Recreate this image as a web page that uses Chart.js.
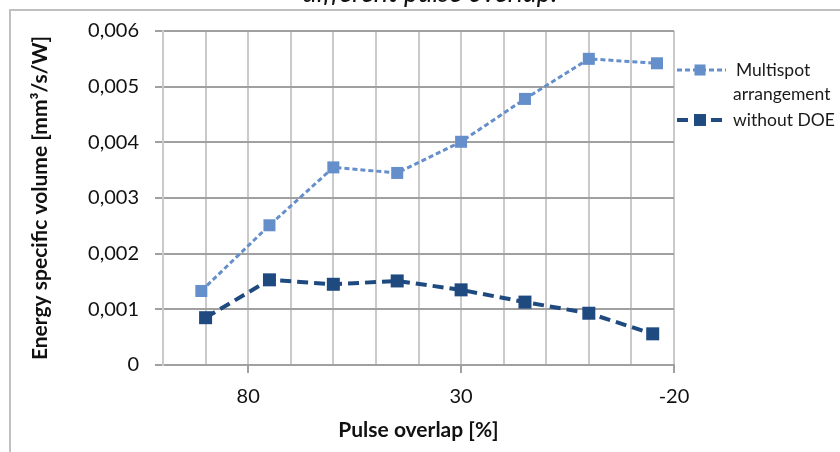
<!DOCTYPE html>
<html>
<head>
<meta charset="utf-8">
<script src="https://cdn.jsdelivr.net/npm/chart.js@4.4.1/dist/chart.umd.min.js"></script>
<style>
  html, body { margin: 0; padding: 0; background: #fff; }
  #chart { display: block; }
</style>
</head>
<body>
<canvas id="chart" width="840" height="452"></canvas>
<script>
// data
const overlapMultispot = [91, 75, 60, 45, 30, 15, 0, -16];
const overlapDoe = [90, 75, 60, 45, 30, 15, 0, -15];
const multispot = [0.00133, 0.00251, 0.00355, 0.00345, 0.00401, 0.00478, 0.0055, 0.00542];
const withoutDoe = [0.00085, 0.00153, 0.00145, 0.00151, 0.00135, 0.00113, 0.00093, 0.00056];
const xTickLabels = [80, 30, -20];
const seriesNames = [['Multispot', 'arrangement'], ['without DOE']];

const lightBlue = '#658fca';
const darkBlue = '#1f4a80';
const FONT = 'Lato, "Open Sans", sans-serif';

const chart1 = document.getElementById('chart');

// frame, cut-off title and legend
const decor = {
  id: 'decor',
  afterDraw(chart) {
    const ctx = chart.ctx;
    ctx.save();
    ctx.strokeStyle = '#c0c0c0';
    ctx.lineWidth = 2;
    ctx.beginPath();
    ctx.moveTo(10, 452);
    ctx.lineTo(10, 10);
    ctx.lineTo(840, 10);
    ctx.stroke();

    ctx.fillStyle = '#111';
    ctx.font = 'italic 27px ' + FONT;
    ctx.textAlign = 'center';
    ctx.textBaseline = 'alphabetic';
    ctx.fillText('different pulse overlap.', 430, 2);

    // legend
    const rows = [70, 120];
    chart.data.datasets.forEach((ds, i) => {
      const y = rows[i];
      ctx.strokeStyle = ds.borderColor;
      ctx.lineWidth = ds.borderWidth;
      ctx.setLineDash(ds.borderDash);
      ctx.beginPath();
      ctx.moveTo(677, y);
      ctx.lineTo(726, y);
      ctx.stroke();
      ctx.setLineDash([]);
      ctx.fillStyle = ds.backgroundColor;
      const s = ds.pointRadius * 1.3;
      ctx.fillRect(700 - s / 2, y - s / 2, s, s);
      ctx.fillStyle = '#1a1a1a';
      ctx.font = '17.5px ' + FONT;
      ctx.textAlign = 'left';
      ctx.textBaseline = 'middle';
      seriesNames[i].forEach((t, k) => {
        ctx.fillText(t, i === 0 && k === 0 ? 736 : 733, y + k * 24);
      });
    });
    ctx.restore();
  }
};

new Chart(chart1, {
  type: 'line',
  data: {
    datasets: [{
      label: seriesNames[0].join(' '),
      data: overlapMultispot.map((x, i) => ({x: x, y: multispot[i]})),
      borderColor: lightBlue,
      backgroundColor: lightBlue,
      borderWidth: 3,
      borderDash: [5, 3],
      pointStyle: 'rect',
      pointRadius: 8.5,
      pointBorderWidth: 0,
      tension: 0
    }, {
      label: seriesNames[1].join(' '),
      data: overlapDoe.map((x, i) => ({x: x, y: withoutDoe[i]})),
      borderColor: darkBlue,
      backgroundColor: darkBlue,
      borderWidth: 4,
      borderDash: [11, 6],
      pointStyle: 'rect',
      pointRadius: 9.2,
      pointBorderWidth: 0,
      tension: 0
    }]
  },
  options: {
    responsive: false,
    maintainAspectRatio: false,
    animation: false,
    layout: {
      padding: {left: 0, top: 31, right: 166, bottom: 0}
    },
    plugins: {
      legend: {display: false},
      tooltip: {enabled: false}
    },
    scales: {
      x: {
        type: 'linear',
        reverse: true,
        min: -20,
        max: 100,
        afterFit(scale) { scale.height = 87; },
        ticks: {
          stepSize: 10,
          autoSkip: false,
          maxRotation: 0,
          padding: 12,
          color: '#111',
          font: {family: FONT, size: 20},
          callback: v => xTickLabels.includes(v) ? String(v) : ''
        },
        grid: {
          color: '#cacaca',
          lineWidth: 2,
          tickLength: 8,
          tickColor: c => xTickLabels.includes(c.tick && c.tick.value) ? '#a0a0a0' : 'rgba(0,0,0,0)'
        },
        border: {color: '#a0a0a0', width: 2},
        title: {
          display: true,
          text: 'Pulse overlap [%]',
          color: '#111',
          font: {family: FONT, size: 21, weight: 'bold'},
          padding: {top: 0, bottom: 9}
        }
      },
      y: {
        min: 0,
        max: 0.006,
        afterFit(scale) { scale.width = 163; },
        ticks: {
          stepSize: 0.001,
          padding: 16,
          color: '#111',
          font: {family: FONT, size: 20},
          callback: v => v === 0 ? '0' : (Math.round(v * 1000) / 1000).toFixed(3).replace('.', ',')
        },
        grid: {
          color: '#a0a0a0',
          lineWidth: 2,
          tickLength: 8
        },
        border: {color: '#cacaca', width: 2},
        title: {
          display: true,
          text: 'Energy specific volume [mm³/s/W]',
          color: '#111',
          font: {family: FONT, size: 21, weight: 'bold'},
          padding: {top: 28, bottom: 0}
        }
      }
    }
  },
  plugins: [decor]
});
</script>
</body>
</html>
